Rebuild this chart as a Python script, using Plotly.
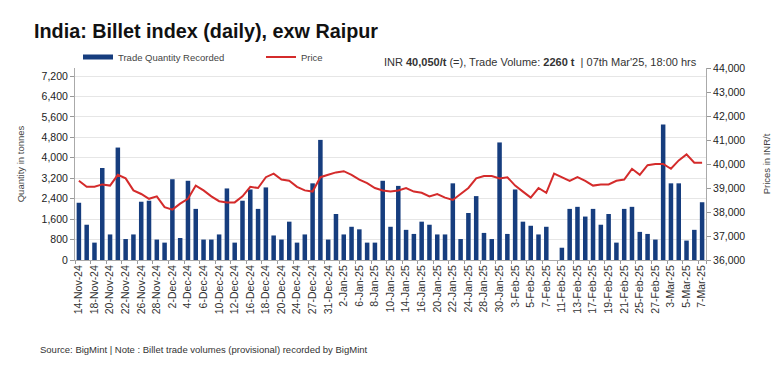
import plotly.graph_objects as go

dates = ["14-Nov-24","15-Nov-24","18-Nov-24","19-Nov-24","20-Nov-24","21-Nov-24","22-Nov-24",
         "25-Nov-24","26-Nov-24","27-Nov-24","28-Nov-24","29-Nov-24",
         "2-Dec-24","3-Dec-24","4-Dec-24","5-Dec-24","6-Dec-24","9-Dec-24","10-Dec-24","11-Dec-24",
         "12-Dec-24","13-Dec-24","16-Dec-24","17-Dec-24","18-Dec-24","19-Dec-24","20-Dec-24",
         "23-Dec-24","24-Dec-24","26-Dec-24","27-Dec-24","30-Dec-24","31-Dec-24",
         "1-Jan-25","2-Jan-25","3-Jan-25","6-Jan-25","7-Jan-25","8-Jan-25","9-Jan-25","10-Jan-25",
         "13-Jan-25","14-Jan-25","15-Jan-25","16-Jan-25","17-Jan-25","20-Jan-25","21-Jan-25",
         "22-Jan-25","23-Jan-25","24-Jan-25","27-Jan-25","28-Jan-25","29-Jan-25","30-Jan-25","31-Jan-25",
         "3-Feb-25","4-Feb-25","5-Feb-25","6-Feb-25","7-Feb-25","10-Feb-25","11-Feb-25","12-Feb-25",
         "13-Feb-25","14-Feb-25","17-Feb-25","18-Feb-25","19-Feb-25","20-Feb-25","21-Feb-25",
         "24-Feb-25","25-Feb-25","26-Feb-25","27-Feb-25","28-Feb-25",
         "3-Mar-25","4-Mar-25","5-Mar-25","6-Mar-25","7-Mar-25"]

quantity = [2240, 1380, 680, 3600, 1000, 4400, 820,
            1000, 2280, 2320, 800, 680,
            3160, 860, 3100, 2000, 800, 800, 1000, 2800,
            680, 2320, 2760, 2000, 2840, 960, 800,
            1500, 680, 1000, 3000, 4700, 800,
            1800, 1000, 1300, 1200, 680, 680, 3100, 1300,
            2900, 1180, 1020, 1500, 1380, 1000, 1000,
            3000, 820, 1840, 2500, 1060, 820, 4600, 1020,
            2760, 1500, 1340, 1000, 1300, 0, 480, 2000,
            2080, 1700, 2000, 1380, 1800, 680, 2000,
            2080, 1100, 1020, 800, 5300,
            3000, 3000, 760, 1180, 2260]

price = [39300, 39050, 39050, 39150, 39100, 39550, 39400,
         38900, 38750, 38550, 38650, 38200,
         38100, 38350, 38550, 39100, 38900, 38650, 38450, 38400,
         38400, 38650, 39050, 39000, 39450, 39600, 39350,
         39300, 39050, 38900, 38850, 39450, 39550,
         39650, 39700, 39550, 39350, 39200, 39000, 38900, 38850,
         38900, 39000, 38850, 38800, 38650, 38750, 38600,
         38500, 38750, 39000, 39400, 39500, 39500, 39400, 39450,
         39100, 38850, 38600, 39000, 38800, 39600, 39450, 39300,
         39450, 39300, 39100, 39150, 39150, 39300, 39350,
         39800, 39550, 39950, 40000, 40000,
         39800, 40150, 40400, 40050, 40050]

left_ticks = [0, 800, 1600, 2400, 3200, 4000, 4800, 5600, 6400, 7200]
right_ticks = [36000, 37000, 38000, 39000, 40000, 41000, 42000, 43000, 44000]

FONT = "Liberation Sans, Arial, sans-serif"
BLUE = "#163d7e"
RED = "#d42b2b"

fig = go.Figure()
fig.add_trace(go.Bar(
    x=dates, y=quantity, name="Trade Quantity Recorded",
    marker=dict(color=BLUE, line=dict(width=0)),
    yaxis="y", showlegend=False,
))
# legend-only key drawn as a thick short line, as in the original legend
fig.add_trace(go.Scatter(
    x=[None], y=[None], name="Trade Quantity Recorded", mode="lines",
    line=dict(color=BLUE, width=5), yaxis="y", showlegend=True,
))
fig.add_trace(go.Scatter(
    x=dates, y=price, name="Price", mode="lines",
    line=dict(color=RED, width=2),
    yaxis="y2",
))

fig.update_layout(
    width=782, height=377,
    margin=dict(l=75, r=76, t=68, b=117, autoexpand=False),
    paper_bgcolor="white", plot_bgcolor="white",
    font=dict(family=FONT, color="#333"),
    bargap=0.42,
    title=dict(text="<b>India: Billet index (daily), exw Raipur</b>",
               x=34/782, xanchor="left", xref="container",
               y=1-31/377, yanchor="middle",
               font=dict(size=19.8, color="#111", family=FONT)),
    showlegend=True,
    legend=dict(orientation="h", x=78/782, xref="container", y=1-57/377, yref="container",
                yanchor="middle", xanchor="left",
                font=dict(size=9.5, color="#444"), itemwidth=30,
                entrywidth=138, entrywidthmode="pixels",
                bgcolor="rgba(0,0,0,0)"),
    xaxis=dict(type="category", tickmode="array", tickvals=dates[::2], ticktext=dates[::2],
               tickangle=-90, tickfont=dict(size=10.5, color="#333"),
               ticks="outside", ticklen=3, tickcolor="#999", tickson="boundaries",
               showline=True, linecolor="#aaa", linewidth=1, showgrid=False,
               range=[-0.5, len(dates)-0.5], automargin=False),
    yaxis=dict(range=[0, 7200*192/184], tickmode="array", tickvals=left_ticks,
               ticktext=[f"{v:,}" for v in left_ticks],
               tickfont=dict(size=10.5, color="#222", family=FONT), ticks="outside", ticklen=4,
               tickcolor="#999", showline=True, linecolor="#aaa", showgrid=True,
               gridcolor="#e6e6e6", zeroline=False, automargin=False,
               title=dict(text="Quantity in tonnes", font=dict(size=9.5, color="#444"), standoff=15)),
    yaxis2=dict(range=[36000, 44000], overlaying="y", side="right", tickmode="array",
                tickvals=right_ticks, ticktext=[f"{v:,}" for v in right_ticks],
                tickfont=dict(size=10.5, color="#222", family=FONT), ticks="outside", ticklen=4,
                tickcolor="#999", showline=True, linecolor="#aaa", showgrid=False, zeroline=False,
                automargin=False,
                title=dict(text="Prices in INR/t", font=dict(size=9.5, color="#444"), standoff=18)),
    annotations=[
        dict(text="INR <b>40,050/t</b> (=), Trade Volume: <b>2260 t</b>  | 07th Mar'25, 18:00 hrs",
             xref="paper", yref="paper", x=(699-75)/631, y=(260-62)/192, xanchor="right", yanchor="middle",
             showarrow=False, font=dict(size=11, color="#333", family=FONT)),
        dict(text="Source: BigMint | Note : Billet trade volumes (provisional) recorded by BigMint",
             xref="paper", yref="paper", x=(38-75)/631, y=(260-349)/192, xanchor="left", yanchor="middle",
             showarrow=False, font=dict(size=9.5, color="#333", family=FONT)),
    ],
)

fig.write_html("out.html", config={"displayModeBar": False},
               post_script="document.body.style.margin='0';")
